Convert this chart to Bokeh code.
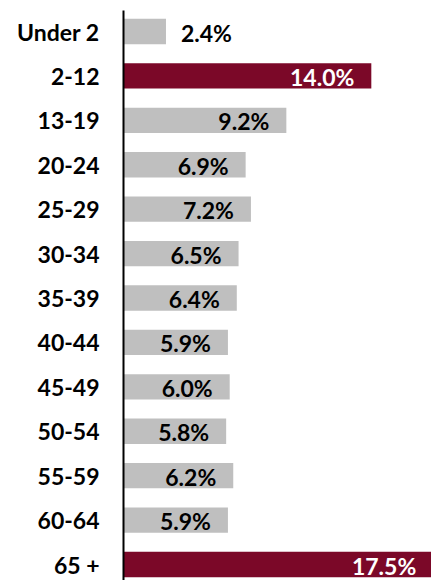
from bokeh.plotting import figure
from bokeh.models import ColumnDataSource, Range1d, FixedTicker
from bokeh.core.properties import value
from bokeh.embed import file_html
from bokeh.resources import INLINE

categories = ["Under 2", "2-12", "13-19", "20-24", "25-29", "30-34", "35-39",
              "40-44", "45-49", "50-54", "55-59", "60-64", "65 +"]
shares = [2.4, 14.0, 9.2, 6.9, 7.2, 6.5, 6.4, 5.9, 6.0, 5.8, 6.2, 5.9, 17.5]
highlighted = ["2-12", "65 +"]

GRAY = "#BFBFBF"
MAROON = "#7B0828"
FONT = "Lato"

idx = list(range(len(categories)))
colors = [MAROON if c in highlighted else GRAY for c in categories]
labels = [f"{v:.1f}%" for v in shares]

inside = [i for i, v in enumerate(shares) if v >= 4]
outside = [i for i, v in enumerate(shares) if v < 4]

bars = ColumnDataSource(dict(y=idx, right=shares, color=colors))
in_src = ColumnDataSource(dict(
    y=[idx[i] for i in inside], x=[shares[i] for i in inside],
    text=[labels[i] for i in inside],
    color=["white" if categories[i] in highlighted else "black" for i in inside]))
out_src = ColumnDataSource(dict(
    y=[idx[i] for i in outside], x=[shares[i] for i in outside],
    text=[labels[i] for i in outside]))

p = figure(width=431, height=580, output_backend="svg", toolbar_location=None,
           x_range=Range1d(0, 17.4), y_range=Range1d(12.36, -0.473),
           min_border_left=123, min_border_right=0, min_border_top=10,
           min_border_bottom=0)

p.hbar(y="y", left=0, right="right", height=0.57, color="color",
       line_color=None, source=bars)

p.text(x="x", y="y", text="text", source=in_src, text_color="color",
       text_align="right", text_baseline="middle", x_offset=-17, y_offset=1,
       text_font=value(FONT), text_font_style="bold", text_font_size="23px")
p.text(x="x", y="y", text="text", source=out_src, text_color="black",
       text_align="left", text_baseline="middle", x_offset=15, y_offset=1,
       text_font=value(FONT), text_font_style="bold", text_font_size="23px")

p.xaxis.visible = False
p.xgrid.visible = False
p.ygrid.visible = False
p.outline_line_color = None

ya = p.yaxis[0]
ya.ticker = FixedTicker(ticks=idx)
ya.major_label_overrides = {i: c for i, c in enumerate(categories)}
ya.major_tick_line_color = None
ya.minor_tick_line_color = None
ya.major_tick_out = 0
ya.major_tick_in = 0
ya.axis_line_color = "black"
ya.axis_line_width = 2
ya.major_label_standoff = 24
ya.major_label_text_font = FONT
ya.major_label_text_font_style = "bold"
ya.major_label_text_font_size = "23px"
ya.major_label_text_color = "black"

open("out.html", "w").write(file_html(p, INLINE))
